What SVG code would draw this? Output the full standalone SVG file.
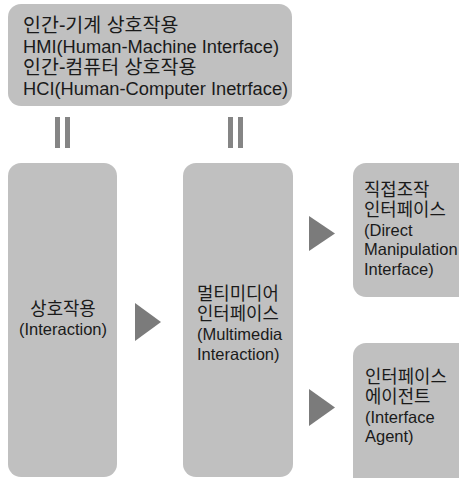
<svg xmlns="http://www.w3.org/2000/svg" width="459" height="478" viewBox="0 0 459 478">
  <style>
    .box { fill: #c0c0c0; }
    .t { font-family: "Liberation Sans", "Noto Sans CJK KR", sans-serif; fill: #1a1a1a; }
    .big { font-size: 18.3px; }
    .bigk { font-size: 19.5px; }
    .small { font-size: 16.5px; }
    .smallk { font-size: 17.8px; }
    .arrow { fill: #7b7b7b; }
    .bar { fill: #858585; }
  </style>
  <rect width="459" height="478" fill="#ffffff"/>

  <g id="hci-definition">
    <rect class="box" x="8" y="4" width="284" height="102" rx="13"/>
    <text class="t bigk" x="23" y="32">인간-기계 상호작용</text>
    <text class="t big" x="23" y="53">HMI(Human-Machine Interface)</text>
    <text class="t bigk" x="23" y="74">인간-컴퓨터 상호작용</text>
    <text class="t big" x="23" y="95">HCI(Human-Computer Inetrface)</text>
  </g>

  <g id="interaction">
    <rect class="box" x="8" y="163" width="109" height="314" rx="13"/>
    <text class="t smallk" x="63" y="315" text-anchor="middle">상호작용</text>
    <text class="t small" x="63" y="335" text-anchor="middle">(Interaction)</text>
  </g>

  <g id="multimedia-interface">
    <rect class="box" x="183" y="163" width="110" height="314" rx="13"/>
    <text class="t smallk" x="197" y="300">멀티미디어</text>
    <text class="t smallk" x="197" y="320">인터페이스</text>
    <text class="t small" x="197" y="340">(Multimedia</text>
    <text class="t small" x="197" y="360">Interaction)</text>
  </g>

  <g id="direct-manipulation">
    <rect class="box" x="353" y="163" width="118" height="134" rx="13"/>
    <text class="t smallk" x="364" y="196">직접조작</text>
    <text class="t smallk" x="364" y="216">인터페이스</text>
    <text class="t small" x="364" y="236">(Direct</text>
    <text class="t small" x="364" y="255">Manipulation</text>
    <text class="t small" x="364" y="275">Interface)</text>
  </g>

  <g id="interface-agent">
    <rect class="box" x="353" y="343" width="118" height="148" rx="13"/>
    <text class="t smallk" x="365" y="383">인터페이스</text>
    <text class="t smallk" x="365" y="403">에이전트</text>
    <text class="t small" x="365" y="423">(Interface</text>
    <text class="t small" x="365" y="442">Agent)</text>
  </g>

  <g id="connectors">
    <!-- equivalence marks under the definition box -->
    <rect class="bar" x="55" y="117" width="5" height="31"/>
    <rect class="bar" x="65" y="117" width="5" height="31"/>
    <rect class="bar" x="228" y="117" width="5" height="31"/>
    <rect class="bar" x="238" y="117" width="5" height="31"/>
    <!-- flow arrows -->
    <polygon class="arrow" points="135,303 161,322 135,341"/>
    <polygon class="arrow" points="309,216 335,233.5 309,251"/>
    <polygon class="arrow" points="309,389 335,407.5 309,426"/>
  </g>
</svg>
